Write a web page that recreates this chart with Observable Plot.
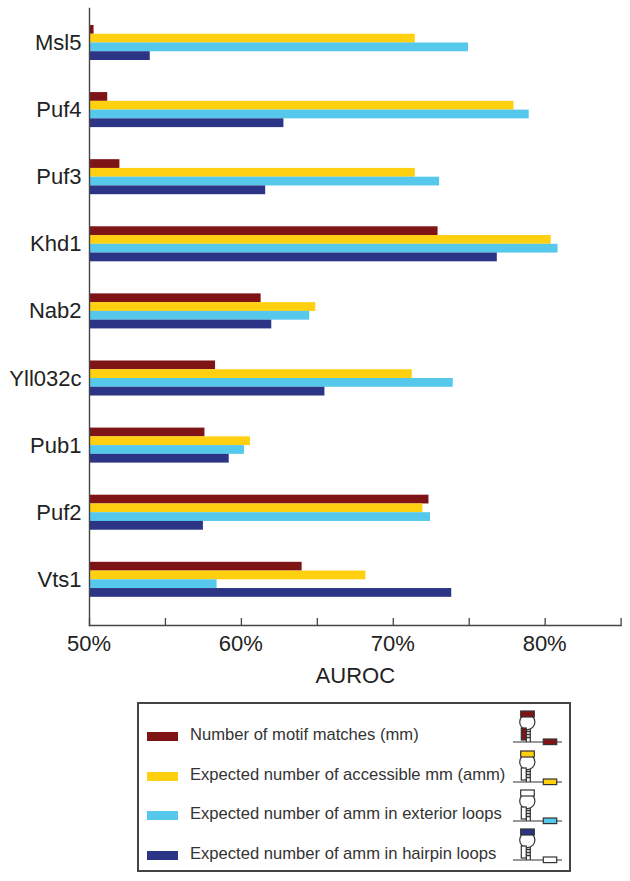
<!DOCTYPE html>
<html>
<head>
<meta charset="utf-8">
<script src="https://cdn.jsdelivr.net/npm/d3@7"></script>
<script src="https://cdn.jsdelivr.net/npm/@observablehq/plot@0.6"></script>
<style>
html,body{margin:0;padding:0;background:#fff;width:630px;height:881px;overflow:hidden;font-family:"Liberation Sans",Arial,sans-serif}
#chart svg{display:block}
#legend{position:absolute;left:137px;top:702px;width:430px;height:166px;border:2px solid #444;box-sizing:content-box;color:#333;font-size:16.6px}
.sw{position:absolute;left:8px;width:31px;height:9px}
.lab{position:absolute;left:51px;line-height:18px;white-space:nowrap}
.ico{position:absolute;left:374px;width:50px;height:40px;overflow:visible}
</style>
</head>
<body>
<div id="chart"></div>
<div id="legend"></div>
<script>
const proteins = ["Msl5","Puf4","Puf3","Khd1","Nab2","Yll032c","Pub1","Puf2","Vts1"];
const motifMatches   = [50.3,51.2,52.0,72.95,61.3,58.3,57.6,72.35,64.0];
const accessibleMm   = [71.45,77.95,71.45,80.4,64.9,71.25,60.6,71.95,68.2];
const exteriorLoops  = [74.95,78.95,73.05,80.85,64.5,73.95,60.2,72.45,58.4];
const hairpinLoops   = [54.0,62.8,61.6,76.85,62.0,65.5,59.2,57.5,73.85];
const seriesNames = [
  "Number of motif matches (mm)",
  "Expected number of accessible mm (amm)",
  "Expected number of amm in exterior loops",
  "Expected number of amm in hairpin loops"
];
const seriesColors = ["#7f1416","#ffd00f","#55c8ec","#2c3585"];
const seriesValues = [motifMatches,accessibleMm,exteriorLoops,hairpinLoops];
const minorTicks = [50,55,60,65,70,75,80,85];
const labelTicks = [50,60,70,80];
const xTitle = "AUROC";

const rowH = 8.75;
const barMarks = seriesValues.map((vals,i)=>Plot.barX(
  proteins.map((p,j)=>({protein:p,value:vals[j]})),
  {x1:()=>50,x2:"value",y:"protein",fill:seriesColors[i],
   insetTop:i*rowH,insetBottom:(3-i)*rowH}
));

const chart = Plot.plot({
  width:630,height:690,marginLeft:89,marginRight:9.4,marginTop:8,marginBottom:65,
  style:{fontFamily:'"Liberation Sans",Arial,sans-serif',background:"#fff",color:"#222"},
  x:{domain:[50,85],label:null},
  y:{domain:proteins,paddingInner:0.478,paddingOuter:0.3365,align:0.376,round:false,label:null},
  marks:[
    ...barMarks,
    Plot.frame({anchor:"left",stroke:"#444",strokeWidth:1.4}),
    Plot.frame({anchor:"bottom",stroke:"#444",strokeWidth:1.4}),
    Plot.axisY({anchor:"left",tickSize:0,tickPadding:8,fontSize:22,label:null}),
    Plot.axisX({anchor:"bottom",ticks:minorTicks,tickSize:-7,tickFormat:()=>"",label:null,stroke:"#444",strokeWidth:1.3}),
    Plot.axisX({anchor:"bottom",ticks:labelTicks,tickSize:0,tickPadding:10,fontSize:22,dx:-0.5,tickFormat:d=>d+"%",label:null}),
    Plot.text([xTitle],{frameAnchor:"bottom",dy:57,fontSize:22,fill:"#222"})
  ]
});
document.getElementById("chart").append(chart);

function icon(i){
  const c=seriesColors[i];
  const capFill=i===2?"#fff":c;
  const stemFill=i===0?c:"#fff";
  const extFill=i<=2?c:"#fff";
  return `<svg class="ico" viewBox="0 0 50 40" style="top:${[1,40.7,80,119][i]}px">
  <g stroke="#333" stroke-width="1.2" fill="#fff">
   <circle cx="14.3" cy="17" r="7.6"/>
   <line x1="0" x2="49" y1="37" y2="37"/>
   <line x1="13.3" x2="13.3" y1="24" y2="37"/><line x1="17.3" x2="17.3" y1="24" y2="37"/>
   <path d="M13.3 26.5h4M13.3 29.5h4M13.3 32.5h4" stroke-width="1.5"/>
   <rect x="7.7" y="6" width="13.6" height="6" fill="${capFill}"/>
   <rect x="8.3" y="23" width="4.9" height="12" fill="${stemFill}"/>
   <rect x="30.3" y="34" width="13.4" height="5.6" fill="${extFill}"/>
  </g></svg>`;
}
const lg=document.getElementById("legend");
const swTops=[28,68,107,146.5], labTops=[21.5,61.5,101,141];
lg.innerHTML=seriesNames.map((n,i)=>
 `<div class="sw" style="top:${swTops[i]}px;background:${seriesColors[i]}"></div>`+
 `<div class="lab" style="top:${labTops[i]}px">${n}</div>`+icon(i)).join("");
</script>
</body>
</html>
